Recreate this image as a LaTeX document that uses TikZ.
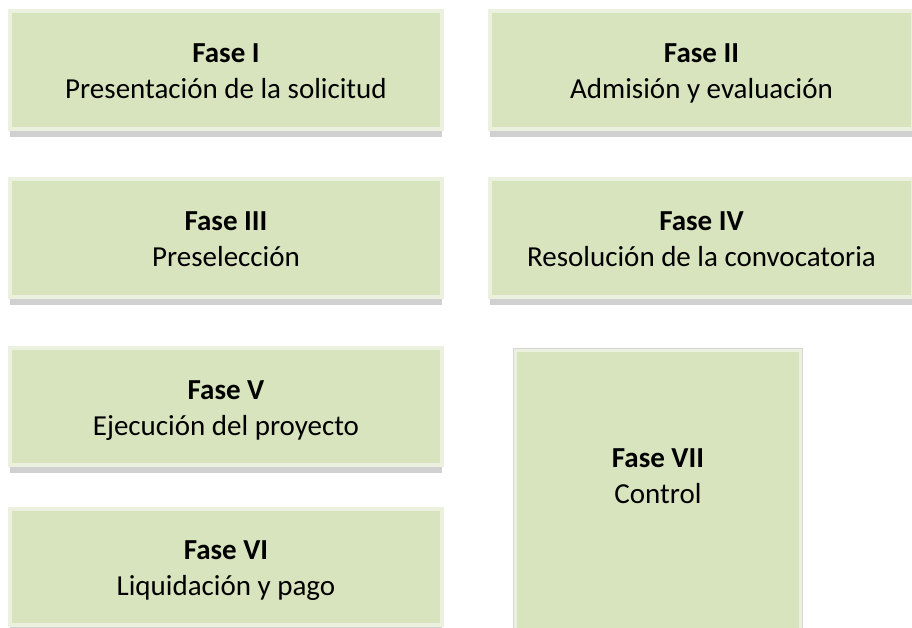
\documentclass[tikz,border=0pt]{standalone}
\usepackage{fontspec}
\setmainfont{Carlito}
\usetikzlibrary{shadows}

\definecolor{fasegreen}{HTML}{D8E4BD}
\definecolor{faseedge}{HTML}{EBF1DE}
\definecolor{faseshadow}{HTML}{D0D0D0}
\definecolor{faseline}{HTML}{D6D6D6}

\begin{document}
\begin{tikzpicture}[x=1pt,y=-1pt,
  fasebox/.style={rectangle, fill=fasegreen, draw=faseedge, line width=4pt,
    inner sep=0pt, outer sep=0pt, align=center,
    font=\fontsize{29}{36}\selectfont,
    execute at begin node={\rule{0pt}{64pt}},
    execute at end node={\rule[-7pt]{0pt}{7pt}}},
  faseshade/.style={drop shadow={shadow xshift=0pt, shadow yshift=-8pt,
    fill=faseshadow, opacity=1}},
  faseside/.style={draw=faseline, line width=0.6pt, double=faseedge, double distance=3pt}]

\useasboundingbox (0,0) rectangle (912,628);

\node[fasebox, faseshade, minimum width=432pt, minimum height=118pt] (f1) at (226,70)
  {\textbf{Fase I}\\Presentación de la solicitud};
\node[fasebox, faseshade, minimum width=423pt, minimum height=118pt] (f2) at (701.5,70)
  {\textbf{Fase II}\\Admisión y evaluación};

\node[fasebox, faseshade, minimum width=432pt, minimum height=118pt] (f3) at (226,238)
  {\textbf{Fase III}\\Preselección};
\node[fasebox, faseshade, minimum width=423pt, minimum height=118pt] (f4) at (701.5,238)
  {\textbf{Fase IV}\\Resolución de la convocatoria};

\node[fasebox, faseshade, minimum width=432pt, minimum height=117pt] (f5) at (226,406.5)
  {\textbf{Fase V}\\Ejecución del proyecto};
\node[fasebox, faseshade, minimum width=432pt, minimum height=116pt] (f6) at (226,567)
  {\textbf{Fase VI}\\Liquidación y pago};

\node[fasebox, faseside, minimum width=285.8pt, minimum height=300pt,
  label={[font=\fontsize{29}{36}\selectfont, align=center, yshift=24pt]center:\textbf{Fase VII}\\Control}]
  (f7) at (658,500) {};

\end{tikzpicture}
\end{document}
